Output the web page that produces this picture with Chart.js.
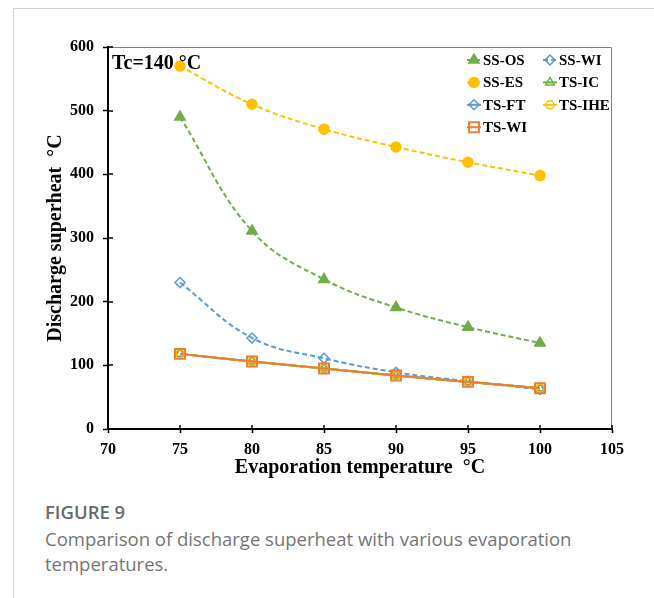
<!DOCTYPE html>
<html>
<head>
<meta charset="utf-8">
<script src="https://cdn.jsdelivr.net/npm/chart.js@4.4.1/dist/chart.umd.min.js"></script>
<style>
  html, body { margin: 0; padding: 0; background: #fff; }
  body { width: 654px; height: 598px; position: relative; overflow: hidden; }
  #frame { position: absolute; left: 13px; top: 8px; right: 0; bottom: 0; border-left: 1px solid #d4d4d4; border-top: 1px solid #d4d4d4; }
  #chartBox { position: absolute; left: 0; top: 0; width: 654px; height: 490px; }
  #caption { position: absolute; left: 45px; top: 498px; width: 595px; font-family: "Open Sans", sans-serif; color: #757575; }
  #caption .fig { font-weight: 600; font-size: 18.5px; line-height: 28px; color: #6a6a6a; }
  #caption .txt { font-size: 18.5px; line-height: 25px; }
</style>
</head>
<body>
<div id="frame"></div>
<div id="chartBox"><canvas id="chart" width="654" height="490"></canvas></div>
<div id="caption">
  <div class="fig">FIGURE 9</div>
  <div class="txt">Comparison of discharge superheat with various evaporation temperatures.</div>
</div>
<script>
// evaporation temperature (x) and discharge superheat values (y)
const temps = [75, 80, 85, 90, 95, 100];
const ssOS  = [490, 311, 235, 191, 160, 135];
const ssWI  = [230, 143, 111, 89, 75, 62];
const ssES  = [570, 510, 471, 443, 419, 398];
const tsIC  = [118, 106, 95, 84, 74, 64];
const tsFT  = [118, 106, 95, 84, 74, 64];
const tsIHE = [118, 106, 95, 84, 74, 64];
const tsWI  = [118, 106, 95, 84, 74, 64];

const xTicks = [70, 75, 80, 85, 90, 95, 100, 105];
const yTicks = [0, 100, 200, 300, 400, 500, 600];

const GREEN = '#70AD47', BLUE = '#5B9BD5', GOLD = '#FFC000', ORANGE = '#ED7D31';
const NONE = 'rgba(0,0,0,0)';
const SERIF = '"Liberation Serif", "Times New Roman", serif';

function pts(vals) {
  return temps.map((t, i) => ({ x: t, y: vals[i] }));
}

function series(label, vals, color, style, radius, filled, dashed, order) {
  return {
    label: label,
    data: pts(vals),
    borderColor: color,
    backgroundColor: color,
    borderWidth: 2,
    borderDash: dashed ? [5, 3] : [],
    tension: 0.4,
    pointStyle: style,
    pointRadius: radius,
    pointBorderColor: color,
    pointBackgroundColor: filled ? color : NONE,
    pointBorderWidth: style == 'rect' ? 2 : 1.5,
    order: order
  };
}

const datasets = [
  series('SS-OS', ssOS, GREEN, 'triangle', 6, true, true, 7),
  series('SS-WI', ssWI, BLUE, 'rectRot', 5, false, true, 6),
  series('SS-ES', ssES, GOLD, 'circle', 5, true, true, 5),
  series('TS-IC', tsIC, GREEN, 'triangle', 5, false, false, 4),
  series('TS-FT', tsFT, BLUE, 'rectRot', 5, false, false, 3),
  series('TS-IHE', tsIHE, GOLD, 'circle', 4, false, false, 2),
  series('TS-WI', tsWI, ORANGE, 'rect', 7, false, false, 1)
];

function marker(ctx, ds, x, y) {
  ctx.fillStyle = ds.pointBackgroundColor;
  ctx.strokeStyle = ds.pointBorderColor;
  ctx.lineWidth = ds.pointBorderWidth;
  Chart.helpers.drawPoint(ctx, {
    pointStyle: ds.pointStyle, radius: ds.pointRadius, rotation: 0,
    borderWidth: ds.pointBorderWidth
  }, x, y);
}

const extras = {
  id: 'extras',
  beforeDatasetsDraw(chart) {
    const { ctx, chartArea: a, scales: { x, y } } = chart;
    ctx.save();
    // plot frame (top and right)
    ctx.strokeStyle = '#808080';
    ctx.lineWidth = 1;
    ctx.beginPath();
    ctx.moveTo(a.left, a.top + 0.5);
    ctx.lineTo(a.right - 0.5, a.top + 0.5);
    ctx.lineTo(a.right - 0.5, a.bottom);
    ctx.stroke();
    // inner half of the cross tick marks
    ctx.strokeStyle = '#000';
    ctx.lineWidth = 1.5;
    ctx.beginPath();
    x.ticks.forEach(t => {
      const px = Math.round(x.getPixelForValue(t.value));
      ctx.moveTo(px, a.bottom);
      ctx.lineTo(px, a.bottom - 4);
    });
    y.ticks.forEach(t => {
      const py = Math.round(y.getPixelForValue(t.value));
      ctx.moveTo(a.left, py);
      ctx.lineTo(a.left + 5, py);
    });
    ctx.stroke();
    ctx.restore();
  },
  afterDraw(chart) {
    const { ctx, chartArea: a } = chart;
    ctx.save();
    ctx.fillStyle = '#000';
    ctx.font = 'bold 20px ' + SERIF;
    ctx.textBaseline = 'alphabetic';
    ctx.fillText('Tc=140 °C', a.left + 4, a.top + 22);

    // legend, two columns
    ctx.font = 'bold 15px ' + SERIF;
    ctx.textBaseline = 'middle';
    const cols = [474, 550];
    datasets.forEach((ds, i) => {
      const cx = cols[i % 2];
      const cy = 60 + Math.floor(i / 2) * 22.4;
      ctx.strokeStyle = ds.borderColor;
      ctx.lineWidth = 2;
      ctx.setLineDash(ds.borderDash);
      ctx.beginPath();
      ctx.moveTo(cx - 7, cy);
      ctx.lineTo(cx + 7, cy);
      ctx.stroke();
      ctx.setLineDash([]);
      marker(ctx, ds, cx, cy);
      ctx.fillStyle = '#000';
      ctx.fillText(ds.label, cx + 9, cy + 1);
    });
    ctx.restore();
  }
};

new Chart(document.getElementById('chart'), {
  type: 'line',
  data: { datasets: datasets },
  options: {
    responsive: false,
    animation: false,
    layout: { padding: { top: 47, right: 42, left: 0, bottom: 0 } },
    plugins: { legend: { display: false }, tooltip: { enabled: false } },
    scales: {
      x: {
        type: 'linear',
        min: 70, max: 105,
        afterBuildTicks: s => { s.ticks = xTicks.map(v => ({ value: v })); },
        afterFit: s => { s.height = 61; },
        border: { display: true, color: '#000', width: 2 },
        grid: { drawOnChartArea: false, drawTicks: true, tickLength: 4, tickColor: '#000', tickWidth: 1.5 },
        ticks: { color: '#000', padding: 7, maxRotation: 0, font: { family: SERIF, size: 16, weight: 'bold' } },
        title: { display: true, text: 'Evaporation temperature  °C', color: '#000', padding: { top: 0, bottom: 10 },
                 font: { family: SERIF, size: 20, weight: 'bold' } }
      },
      y: {
        min: 0, max: 600,
        afterBuildTicks: s => { s.ticks = yTicks.map(v => ({ value: v })); },
        afterFit: s => { s.width = 108; },
        border: { display: true, color: '#000', width: 2 },
        grid: { drawOnChartArea: false, drawTicks: true, tickLength: 5, tickColor: '#000', tickWidth: 1.5 },
        ticks: { color: '#000', padding: 9, font: { family: SERIF, size: 16, weight: 'bold' } },
        title: { display: true, text: 'Discharge superheat  °C', color: '#000', padding: { top: 44, bottom: 0 },
                 font: { family: SERIF, size: 20, weight: 'bold' } }
      }
    }
  },
  plugins: [extras]
});
</script>
</body>
</html>
